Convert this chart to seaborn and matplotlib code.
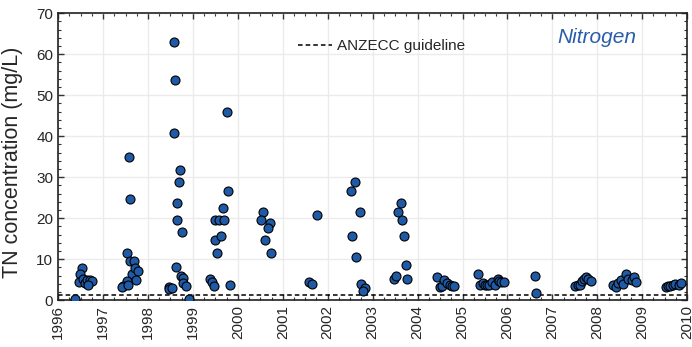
import numpy as np
import pandas as pd
import seaborn as sns
import matplotlib
matplotlib.use('Agg')
import matplotlib.pyplot as plt
from matplotlib.ticker import MultipleLocator

# sample dates (decimal year) and TN concentrations (mg/L)
dates = [
    1996.38, 1996.54, 1996.49, 1996.47, 1996.56, 1996.60, 1996.64, 1996.70, 1996.75, 1996.67,
    1997.53, 1997.58, 1997.59, 1997.60, 1997.68, 1997.64, 1997.71, 1997.77, 1997.74, 1997.53,
    1997.45, 1997.42, 1997.55,
    1998.59, 1998.60, 1998.57, 1998.72, 1998.69, 1998.64, 1998.65, 1998.75, 1998.63, 1998.73,
    1998.79, 1998.78, 1998.84, 1998.92, 1998.46, 1998.47, 1998.53,
    1999.38, 1999.43, 1999.46, 1999.49, 1999.53, 1999.50, 1999.58, 1999.62, 1999.66, 1999.70,
    1999.75, 1999.78, 1999.83,
    2000.57, 2000.52, 2000.72, 2000.66, 2000.61, 2000.74,
    2001.59, 2001.65, 2001.77,
    2002.51, 2002.61, 2002.71, 2002.54, 2002.63, 2002.74, 2002.83, 2002.79,
    2003.48, 2003.52, 2003.57, 2003.63, 2003.66, 2003.69, 2003.74, 2003.77,
    2004.43, 2004.49, 2004.54, 2004.59, 2004.65, 2004.72, 2004.77, 2004.82,
    2005.35, 2005.40, 2005.45, 2005.50, 2005.54, 2005.59, 2005.65, 2005.73, 2005.78, 2005.82,
    2005.86, 2005.93,
    2006.62, 2006.64,
    2007.51, 2007.56, 2007.62, 2007.66, 2007.71, 2007.75, 2007.80, 2007.86,
    2008.36, 2008.41, 2008.47, 2008.52, 2008.58, 2008.64, 2008.69, 2008.77, 2008.82, 2008.87,
    2009.52, 2009.57, 2009.62, 2009.68, 2009.73, 2009.81, 2009.87,
]
tn = [
    0.3, 7.8, 6.5, 4.4, 5.1, 4.2, 4.8, 4.8, 4.6, 3.8,
    11.6, 34.8, 24.6, 9.5, 9.5, 6.4, 7.9, 7.1, 4.8, 4.6,
    3.4, 3.3, 3.6,
    63.0, 53.8, 40.8, 31.7, 28.7, 23.7, 19.6, 16.6, 8.1, 5.9,
    5.5, 4.2, 3.4, 0.2, 3.2, 2.6, 3.0,
    5.1, 4.4, 3.4, 14.6, 11.6, 19.6, 19.6, 15.7, 22.6, 19.6,
    45.8, 26.7, 3.6,
    21.6, 19.6, 18.7, 17.6, 14.6, 11.6,
    4.5, 4.0, 20.7,
    26.7, 28.7, 21.6, 15.7, 10.6, 4.0, 2.9, 2.2,
    5.1, 5.9, 21.6, 23.7, 19.6, 15.7, 8.5, 5.1,
    5.6, 3.2, 3.4, 4.8, 4.2, 3.7, 3.4, 3.4,
    6.5, 3.7, 4.2, 3.6, 3.6, 3.6, 4.4, 3.6, 5.2, 4.6,
    4.4, 4.4,
    5.9, 1.8,
    3.4, 3.8, 3.8, 4.6, 5.1, 5.6, 5.1, 4.6,
    3.8, 3.2, 4.2, 4.8, 4.0, 6.3, 5.1, 4.8, 5.6, 4.4,
    3.2, 3.4, 3.4, 3.8, 4.0, 3.8, 4.2,
]
guideline = 1.2
year_ticks = list(range(1996, 2011))

df = pd.DataFrame({'date': dates, 'TN': tn})

sns.set_style('white')
plt.rcParams['font.family'] = ['Liberation Sans', 'DejaVu Sans']

fig, ax = plt.subplots(figsize=(6.92, 3.47), dpi=100)
fig.subplots_adjust(left=0.084, right=0.993, top=0.962, bottom=0.135)

ax.axhline(guideline, color='black', linestyle=(0, (3, 2)), linewidth=1.1,
           label='ANZECC guideline', zorder=2)
sns.scatterplot(data=df, x='date', y='TN', ax=ax, color='#1f5aa6', edgecolor='black',
                linewidth=0.8, s=42, zorder=3, legend=False)

ax.set_xlim(1996, 2010)
ax.set_ylim(0, 70)
ax.set_xticks(year_ticks)
ax.set_xticklabels([str(y) for y in year_ticks], rotation=90, fontsize=11)
ax.xaxis.set_minor_locator(MultipleLocator(0.25))
ax.yaxis.set_major_locator(MultipleLocator(10))
ax.yaxis.set_minor_locator(MultipleLocator(2))
ax.tick_params(axis='y', labelsize=11)
ax.tick_params(which='both', direction='in', top=True, right=True, bottom=True, left=True,
               color='#333333')
ax.tick_params(which='major', length=4, width=1)
ax.tick_params(which='minor', length=2, width=0.8)
ax.grid(True, which='major', color='#ebebeb', linewidth=1)
ax.set_axisbelow(True)
for s in ax.spines.values():
    s.set_color('#222222')
    s.set_linewidth(1.2)

ax.set_xlabel('')
ax.set_ylabel('TN concentration (mg/L)', fontsize=15.5)
ax.yaxis.set_label_coords(-0.056, 0.48)

ax.legend(loc='upper left', bbox_to_anchor=(0.36, 0.957), frameon=False, fontsize=11,
          handlelength=2.2, handletextpad=0.3)
ax.text(0.857, 0.915, 'Nitrogen', transform=ax.transAxes, ha='center', va='center',
        fontsize=15, style='italic', color='#2a5caa')

plt.savefig('out.png', dpi=100)
plt.close()
